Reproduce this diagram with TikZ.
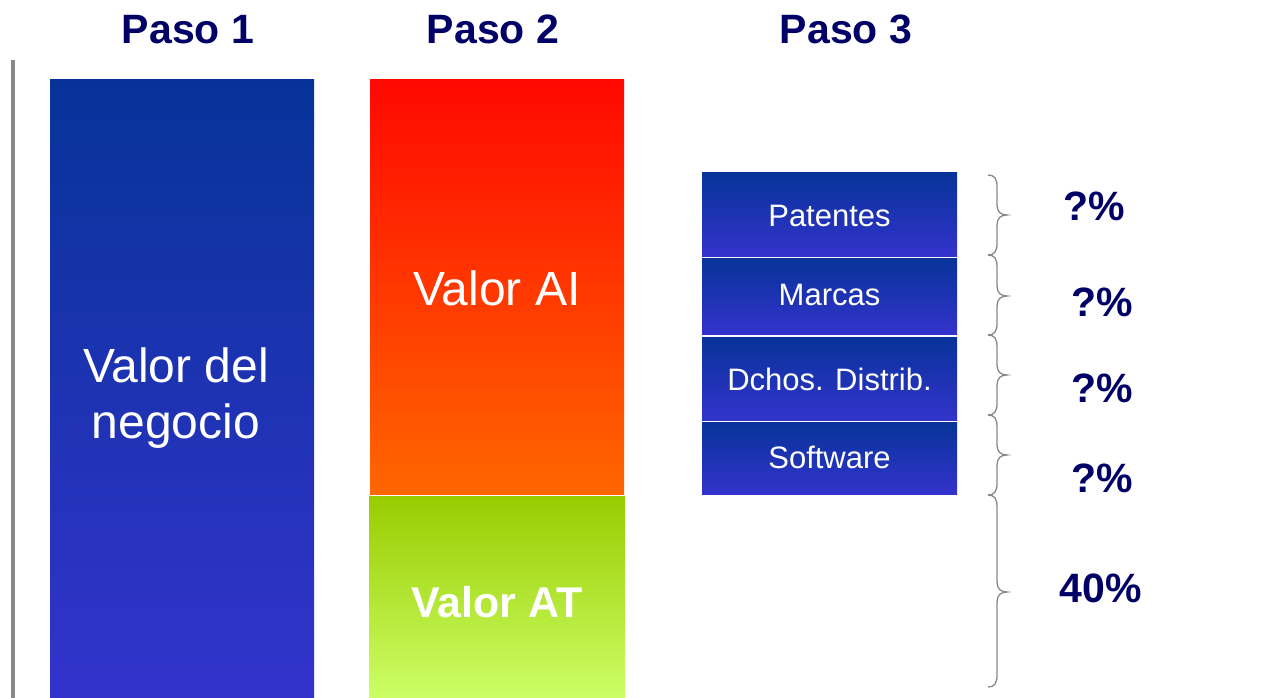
\documentclass[tikz,border=0pt]{standalone}
\usepackage{fontspec}
\setmainfont{Liberation Sans}
\definecolor{navy}{RGB}{0,0,102}
\definecolor{lineGray}{RGB}{136,136,136}
\definecolor{blueTop}{RGB}{7,51,153}
\definecolor{blueBot}{RGB}{51,51,204}
\definecolor{redTop}{RGB}{255,8,0}
\definecolor{redBot}{RGB}{255,102,0}
\definecolor{greenTop}{RGB}{153,204,0}
\definecolor{greenBot}{RGB}{204,255,102}
\newcommand{\pbrace}[3]{\draw[bracestyle] (988,#1) .. controls (994,#1) and (997,#1+3) .. (997,#1+12) -- (997,#2-10) .. controls (997,#2-3) and (1001,#2) .. (1007,#2) .. controls (1001,#2) and (997,#2+3) .. (997,#2+10) -- (997,#3-12) .. controls (997,#3-3) and (994,#3) .. (988,#3);}
\tikzset{
  bar/.style={anchor=north west, inner sep=0pt, outer sep=0pt, draw=none},
  bluebar/.style={bar, top color=blueTop, bottom color=blueBot},
  titletext/.style={anchor=base, inner sep=0pt, text=navy, font=\fontsize{41}{49}\selectfont\bfseries},
  pcttext/.style={anchor=base, inner sep=0pt, text=navy, font=\fontsize{41}{49}\selectfont\bfseries},
  bigwhite/.style={anchor=base, inner sep=0pt, text=white, font=\fontsize{48}{56}\selectfont},
  boxtext/.style={anchor=base, inner sep=0pt, text=white, font=\fontsize{31}{37}\selectfont},
  bracestyle/.style={draw=lineGray, line width=1.3pt}
}
\begin{document}
\begin{tikzpicture}[x=1pt,y=-1pt]
\useasboundingbox (0,0) rectangle (1279,698);
% left gray rule
\draw[draw=lineGray, line width=4pt] (13,60) -- (13,698);
% titles
\node[titletext] (t1) at (188,44) {Paso 1};
\node[titletext] (t2) at (493,44) {Paso 2};
\node[titletext] (t3) at (846,44) {Paso 3};
% step 1
\node[bluebar, minimum width=264pt, minimum height=618pt] (bar1) at (50,80) {};
\node[bigwhite] (v1a) at (176,382) {Valor del};
\node[bigwhite] (v1b) at (176,438) {negocio};
% step 2
\node[bar, top color=redTop, bottom color=redBot, minimum width=254pt, minimum height=414pt] (ai) at (370,80) {};
\node[bar, top color=greenTop, bottom color=greenBot, minimum width=256pt, minimum height=202pt] (at) at (369,496) {};
\node[bigwhite] (vai) at (497,305) {Valor AI};
\node[bigwhite, font=\fontsize{43}{50}\selectfont\bfseries] (vat) at (497,617) {Valor AT};
% step 3 boxes
\node[bluebar, minimum width=255pt, minimum height=84pt] (pat) at (702,172) {};
\node[bluebar, minimum width=255pt, minimum height=76pt] (mar) at (702,258) {};
\node[bluebar, minimum width=255pt, minimum height=83pt] (dch) at (702,337) {};
\node[bluebar, minimum width=255pt, minimum height=72pt] (sof) at (702,422) {};
\node[boxtext] (patT) at (829.5,226) {Patentes};
\node[boxtext] (marT) at (829.5,305) {Marcas};
\node[boxtext] (dchT) at (829.5,390) {Dchos. Distrib.};
\node[boxtext] (sofT) at (829.5,468) {Software};
% braces
\pbrace{175}{215}{255}
\pbrace{255}{296}{335}
\pbrace{335}{375}{415}
\pbrace{415}{455}{495}
\pbrace{495}{592}{687}
% percentages
\node[pcttext] (p1) at (1094,220) {?\%};
\node[pcttext] (p2) at (1102,316) {?\%};
\node[pcttext] (p3) at (1102,402) {?\%};
\node[pcttext] (p4) at (1102,492) {?\%};
\node[pcttext] (p5) at (1101,602) {40\%};
\end{tikzpicture}
\end{document}
